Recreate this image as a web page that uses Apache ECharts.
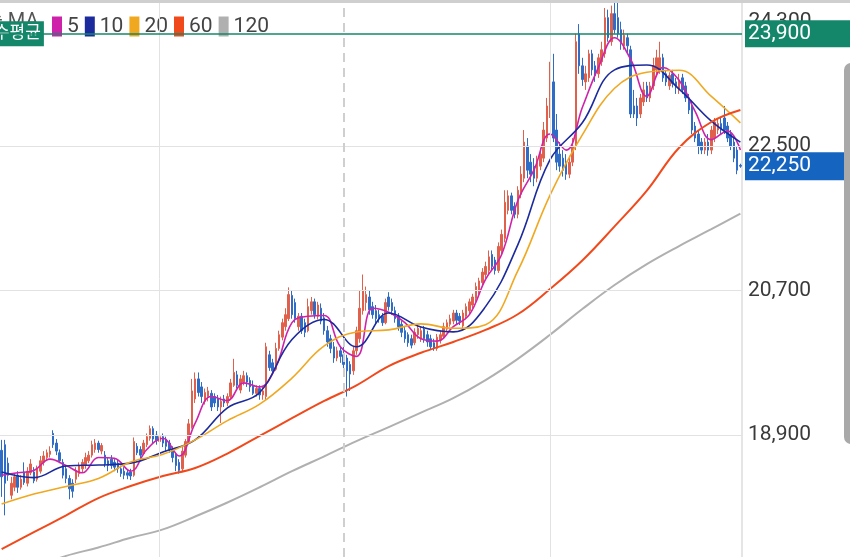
<!DOCTYPE html>
<html><head><meta charset="utf-8">
<script src="https://cdn.jsdelivr.net/npm/echarts@6/dist/echarts.min.js"></script>
<style>html,body{margin:0;padding:0;background:#fff;overflow:hidden}#c{width:850px;height:557px}</style>
</head><body><div id="c"></div>
<script>
// [open, close, low, high]
const ohlc = [
[18710,18380,18130,18840],[18780,18300,17900,18840],[18550,18400,18330,18620],[18150,18300,18100,18380],[18250,18380,18200,18420],
[18400,18250,18180,18450],[18250,18350,18220,18400],[18440,18310,18280,18560],[18300,18450,18260,18500],[18430,18540,18400,18600],
[18440,18330,18300,18500],[18350,18480,18320,18520],[18450,18580,18420,18640],[18560,18640,18520,18700],[18620,18680,18580,18720],
[18660,18700,18620,18760],[18920,18780,18740,18960],[18800,18700,18650,18850],[18680,18580,18550,18720],[18560,18400,18360,18600],
[18480,18360,18300,18520],[18360,18230,18100,18400],[18300,18200,18120,18350],[18350,18460,18300,18500],[18420,18520,18380,18560],
[18480,18560,18440,18600],[18520,18620,18480,18680],[18580,18650,18550,18700],[18650,18780,18620,18830],[18720,18800,18680,18850],
[18800,18720,18680,18830],[18700,18770,18660,18800],[18650,18540,18500,18700],[18580,18520,18450,18620],[18600,18520,18480,18650],
[18560,18500,18450,18600],[18550,18480,18430,18600],[18480,18420,18380,18520],[18450,18400,18350,18500],[18430,18400,18350,18470],
[18440,18390,18340,18480],[18400,18820,18380,18870],[18760,18680,18650,18800],[18720,18650,18600,18760],[18670,18800,18650,18840],
[18780,18880,18750,18920],[18860,18980,18830,19020],[18980,18850,18800,19010],[18900,18830,18780,18950],[18820,18880,18780,18920],
[18880,18800,18750,18920],[18850,18760,18700,18880],[18800,18720,18680,18840],[18720,18620,18560,18760],[18650,18520,18450,18680],
[18560,18460,18420,18600],[18480,18700,18450,18750],[18650,18820,18620,18850],[18820,19040,18800,19100],[19000,19450,18980,19600],
[19350,19600,19300,19680],[19600,19430,19380,19680],[19500,19380,19300,19560],[19320,19430,19280,19480],[19380,19450,19320,19500],
[19420,19250,19200,19460],[19380,19300,19250,19420],[19350,19250,19200,19400],[19250,19320,19050,19380],[19350,19300,19250,19400],
[19300,19380,19260,19420],[19380,19550,19350,19600],[19520,19680,19500,19850],[19650,19520,19480,19700],[19460,19600,19420,19650],
[19560,19640,19520,19700],[19640,19560,19500,19680],[19580,19500,19440,19620],[19520,19420,19400,19580],[19420,19480,19380,19520],
[19480,19400,19340,19520],[19400,19450,19340,19500],[19380,20000,19340,20050],[19900,19740,19700,19950],[19800,19700,19650,19850],
[19720,19980,19700,20050],[19980,20150,19950,20200],[20120,20300,20080,20350],[20250,20400,20200,20480],[20350,20650,20320,20740],
[20640,20400,20350,20700],[20550,20350,20300,20600],[20250,20380,20200,20420],[20380,20200,20160,20420],[20300,20180,20120,20350],
[20200,20500,20180,20600],[20450,20560,20400,20620],[20560,20400,20350,20600],[20380,20520,20340,20560],[20480,20320,20280,20540],
[20360,20200,20150,20420],[20200,20060,20000,20260],[20100,19980,19920,20150],[20000,19860,19800,20060],[19860,19950,19820,20000],
[19950,19880,19800,20000],[19900,19780,19700,20120],[19860,19700,19380,19900],[19780,19660,19450,19820],[19700,19950,19650,20000],
[19950,20200,19900,20250],[20100,20480,20050,20700],[20450,20700,20400,20900],[20550,20650,20450,20750],[20620,20460,20400,20700],
[20500,20400,20350,20560],[20450,20350,20280,20520],[20400,20350,20300,20460],[20380,20300,20260,20420],[20300,20550,20280,20600],
[20620,20500,20450,20680],[20550,20450,20400,20600],[20450,20350,20300,20500],[20380,20250,20200,20420],[20280,20180,20120,20320],
[20200,20100,20050,20250],[20150,20050,20000,20180],[20100,20020,19980,20150],[20050,20180,20020,20230],[20150,20230,20100,20280],
[20100,20200,20060,20250],[20220,20100,20050,20260],[20150,20060,20000,20200],[20100,20000,19960,20150],[20050,19980,19950,20100],
[19980,20120,19950,20160],[20080,20150,20040,20200],[20130,20250,20100,20300],[20220,20300,20180,20340],[20280,20350,20250,20400],
[20320,20420,20280,20460],[20420,20330,20280,20460],[20380,20320,20270,20420],[20260,20420,20220,20460],[20380,20500,20340,20540],
[20450,20560,20400,20600],[20520,20620,20480,20660],[20600,20750,20560,20800],[20700,20820,20650,20860],[20800,20930,20760,20980],
[20900,21000,20850,21060],[20950,21120,20900,21200],[21150,21000,20950,21200],[21080,20950,20900,21120],[20950,21250,20920,21300],
[21200,21400,21150,21460],[21350,21800,21300,21950],[21700,21880,21650,21950],[21880,21700,21650,21920],[21750,21650,21600,21800],
[21650,21950,21600,22000],[21900,22150,21850,22250],[22100,22550,22050,22700],[22500,22200,22100,22600],[22300,22150,22050,22400],
[22250,22100,22000,22350],[22100,22300,22050,22380],[22250,22400,22200,22480],[22350,22700,22300,22800],[22600,23000,22550,23100],
[22900,23100,22850,23550],[23300,22600,22550,23650],[22700,22300,22200,22900],[22400,22250,22180,22550],[22350,22200,22120,22450],
[22300,22150,22080,22400],[22150,22300,22100,22380],[22300,22500,22250,22600],[22500,23800,22450,23900],[23900,23500,23400,24020],
[23500,23330,23250,23600],[23300,23400,23200,23500],[23350,23650,23300,23700],[23650,23450,23380,23700],[23500,23380,23300,23560],
[23400,23600,23350,23650],[23550,23700,23500,23800],[23650,24100,23600,24220],[24100,23850,23800,24200],[23800,24150,23750,24250],
[24150,23950,23900,24300],[24100,23900,23850,24330],[23950,23780,23700,24050],[23750,23880,23700,23950],[23850,23750,23650,23900],
[23700,22900,22850,23750],[23000,22900,22850,23200],[23000,22850,22750,23100],[22900,23100,22850,23150],[23050,23200,23000,23300],
[23250,23100,23050,23300],[23100,23250,23050,23300],[23250,23500,23200,23600],[23450,23600,23400,23700],[23450,23600,23400,23800],
[23600,23350,23300,23650],[23400,23300,23250,23450],[23250,23380,23200,23420],[23400,23280,23230,23450],[23300,23250,23150,23350],
[23200,23320,23150,23400],[23350,23200,23150,23400],[23250,23100,23050,23300],[23100,22950,22900,23150],[23000,22700,22650,23050],
[22750,22600,22550,22800],[22650,22500,22400,22700],[22550,22450,22400,22600],[22450,22550,22400,22600],[22550,22450,22380,22650],
[22450,22700,22400,22750],[22600,22800,22550,22850],[22700,22780,22650,22850],[22780,22700,22650,22850],[22850,22700,22650,23000],
[22750,22600,22550,22800],[22650,22500,22450,22700],[22550,22350,22300,22600],[22450,22200,22150,22500],[22260,22250,22230,22280]
];
const categories = ohlc.map((_, i) => 'D' + (i + 1));

// moving averages at sample candles
const ma5Idx = [0,5,10,15,20,25,30,35,40,45,50,55,60,65,70,75,80,85,90,95,100,105,110,115,120,125,130,135,140,145,150,155,160,165,170,175,180,185,190,195,200,205,210,215,220,225,229];
const ma5Val = [18400,18430,18460,18600,18520,18430,18620,18610,18450,18720,18860,18640,19050,19380,19330,19550,19500,19750,20300,20380,20390,20000,19880,20480,20430,20300,20100,20070,20250,20400,20840,21150,21820,22200,22650,22450,22980,23480,23850,23580,23120,23480,23320,22930,22580,22690,22450];
const maIdx = [0,10,20,30,40,50,60,70,80,90,100,110,120,130,140,150,160,170,180,190,200,210,220,229];
const ma10Val = [18440,18370,18515,18527,18550,18690,18840,19240,19430,20090,20340,20000,20420,20245,20185,20500,21270,22330,22790,23450,23510,23210,22810,22550];
const ma20Val = [18040,18165,18260,18360,18565,18660,18840,19080,19285,19610,20010,20185,20210,20285,20230,20275,20945,21890,22640,23220,23420,23445,23120,22790];
const ma60Val = [17480,17690,17900,18115,18265,18390,18490,18670,18890,19110,19325,19520,19760,19925,20060,20210,20405,20720,21075,21500,21945,22480,22800,22950];
const ma120Val = [17140,17255,17395,17500,17620,17725,17885,18060,18250,18450,18635,18825,19000,19180,19360,19585,19850,20150,20470,20770,21030,21255,21465,21660];

const maNames = ['5','10','20','60','120'];
const maColors = ['#cf22aa','#1b2a9c','#f0a820','#f04a1c','#b0b0b0'];

const yTicks = [18900, 20700, 22500, 24300];
const avgPrice = 23900;
const avgLabel = '매수평균';
const lastPrice = 22250;
const monthIdx = [49, 170];
const dashedIdx = 106;

function sparse(idx, vals) {
  const a = new Array(categories.length).fill(null);
  idx.forEach((k, j) => { a[k] = vals[j]; });
  return a;
}
const fmt = v => Number(v).toLocaleString('en-US');
const FONT = 'Roboto, "Noto Sans CJK KR", sans-serif';
const lastCat = categories[categories.length - 1];

const maSeries = [
  sparse(ma5Idx, ma5Val), sparse(maIdx, ma10Val), sparse(maIdx, ma20Val),
  sparse(maIdx, ma60Val), sparse(maIdx, ma120Val)
].map((d, k) => ({
  name: maNames[k], type: 'line', data: d, connectNulls: true, smooth: 0.4,
  symbol: 'none', silent: true, color: maColors[k],
  lineStyle: { color: maColors[k], width: k >= 3 ? 2 : 1.6 }
}));

const topTick = yTicks[yTicks.length - 1];
const markLines = [];
yTicks.forEach(t => {
  markLines.push({
    yAxis: t,
    lineStyle: { color: '#e2e2e2', width: 1, type: 'solid' },
    label: {
      show: t !== topTick, position: 'end', distance: 6, formatter: fmt(t),
      color: '#3a3a3a', fontSize: 21, fontFamily: FONT
    }
  });
});
monthIdx.forEach(i => markLines.push({
  xAxis: categories[i], lineStyle: { color: '#e2e2e2', width: 1, type: 'solid' }, label: { show: false }
}));
markLines.push({
  xAxis: categories[dashedIdx], lineStyle: { color: '#cfcfcf', width: 2, type: [9, 6] }, label: { show: false }
});
markLines.push({
  yAxis: avgPrice, lineStyle: { color: '#14876a', width: 1.5, type: 'solid' },
  label: { show: true, position: 'end', distance: 3, formatter: fmt(avgPrice),
    color: '#fff', fontSize: 21, fontFamily: FONT, lineHeight: 22,
    backgroundColor: '#14876a', padding: [3, 50, 2, 3] }
});
markLines.push({
  yAxis: lastPrice, lineStyle: { color: 'transparent', width: 1 },
  label: { show: true, position: 'end', distance: 3, formatter: fmt(lastPrice),
    color: '#fff', fontSize: 21, fontFamily: FONT, lineHeight: 22,
    backgroundColor: '#1565c0', padding: [3, 50, 3, 3] }
});

const chart = echarts.init(document.getElementById('c'), null, { renderer: 'canvas' });
chart.setOption({
  animation: false,
  backgroundColor: '#fff',
  grid: { left: 0, right: 108, top: 0, bottom: 0 },
  legend: {
    data: maNames, left: 47, top: 11, icon: 'rect', itemWidth: 10, itemHeight: 20,
    itemGap: 6, itemTextGap: 5, selectedMode: false,
    textStyle: { fontSize: 21, color: '#444', fontFamily: FONT }
  },
  xAxis: {
    type: 'category', data: categories, boundaryGap: true,
    axisLine: { show: false }, axisTick: { show: false }, axisLabel: { show: false }, splitLine: { show: false }
  },
  yAxis: {
    type: 'value', position: 'right', min: 17381, max: 24320, scale: true,
    axisLine: { show: true, lineStyle: { color: '#dcdcdc', width: 1.5 } },
    axisTick: { show: false }, axisLabel: { show: false }, splitLine: { show: false }
  },
  graphic: [
    { type: 'rect', shape: { x: 0, y: 0, width: 850, height: 3 }, style: { fill: '#cfcfcf' }, z: 100 },
    { type: 'rect', shape: { x: 844, y: 63, width: 14, height: 381, r: 7 }, style: { fill: '#a9a9a9' }, z: 100 },
    { type: 'text', x: -34, y: 12, style: { text: '단순 MA', font: '20px Roboto, "Noto Sans CJK KR"', fill: '#555' }, z: 1 }
  ],
  series: [
    {
      type: 'candlestick', data: ohlc, barWidth: 2, silent: true,
      itemStyle: { color: '#e0604c', color0: '#2e6cc6', borderColor: '#e0604c', borderColor0: '#2e6cc6', borderWidth: 1 },
      markLine: { symbol: ['none', 'none'], silent: true, animation: false, z: 5, data: markLines },
      markPoint: {
        silent: true, animation: false, z: 4,
        data: [
          {
            coord: [categories[0], avgPrice], symbol: 'rect', symbolSize: 0,
            itemStyle: { color: 'transparent' },
            label: { show: true, position: 'inside', offset: [8, 0], formatter: avgLabel,
              color: '#fff', fontSize: 17, fontFamily: FONT, lineHeight: 19,
              backgroundColor: '#14876a', padding: [3, 3, 3, 3] }
          },
          {
            coord: [lastCat, topTick], symbol: 'rect', symbolSize: 0,
            itemStyle: { color: 'transparent' },
            label: { show: true, position: 'right', distance: 8, offset: [0, 20], formatter: fmt(topTick),
              color: '#3a3a3a', fontSize: 21, fontFamily: FONT }
          }
        ]
      }
    },
    ...maSeries
  ]
});
</script>
</body></html>
